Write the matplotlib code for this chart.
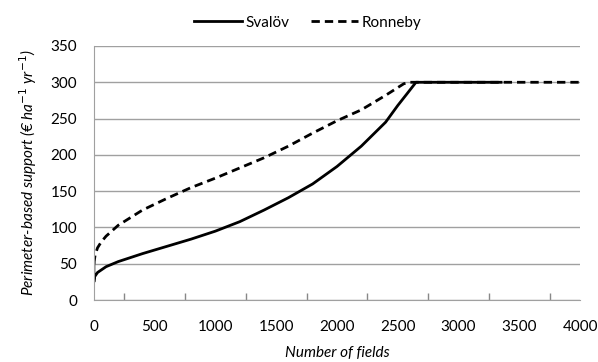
import numpy as np
import matplotlib.pyplot as plt

plt.rcParams['font.family'] = ['Lato', 'DejaVu Sans']

# Svalöv curve (fields sorted by support)
svalov_x = [0, 0, 5, 30, 100, 200, 400, 600, 800, 1000, 1200, 1400, 1600, 1800,
            2000, 2200, 2400, 2500, 2580, 2650, 3350]
svalov_y = [50, 25, 32, 38, 46, 53, 64, 74, 84, 95, 108, 124, 141, 160,
            184, 212, 245, 268, 285, 300, 300]

# Ronneby curve
ronneby_x = [0, 10, 30, 60, 100, 200, 400, 600, 800, 1000, 1200, 1400, 1600,
             1800, 2000, 2200, 2400, 2550, 2600, 4000]
ronneby_y = [50, 62, 72, 80, 88, 103, 124, 140, 155, 168, 182, 196, 212,
             230, 247, 262, 282, 298, 300, 300]

fig = plt.figure(figsize=(5.98, 3.62), dpi=100)
ax = fig.add_axes([0.157, 0.171, 0.813, 0.702])

ax.plot(ronneby_x, ronneby_y, color='black', lw=2, linestyle=(0, (3, 1.8)), label='Ronneby')
ax.plot(svalov_x, svalov_y, color='black', lw=2, label='Svalöv')

ax.set_xlim(0, 4000)
ax.set_ylim(0, 350)
ax.set_xticks(np.arange(0, 4001, 500))
ax.set_xticks(np.arange(250, 4000, 500), minor=True)
ax.set_yticks(np.arange(0, 351, 50))
ax.grid(axis='y', color='#a0a0a0', lw=1)
ax.set_axisbelow(True)

for s in ['top', 'right']:
    ax.spines[s].set_visible(False)
for s in ['left', 'bottom']:
    ax.spines[s].set_color('#a0a0a0')
ax.tick_params(axis='y', length=0, labelsize=11, pad=12)
ax.tick_params(axis='x', which='major', length=0, labelsize=11, pad=14)
ax.tick_params(axis='x', which='minor', length=5, width=1, direction='in', color='#888888')

ax.set_xlabel('Number of fields', fontstyle='italic', fontsize=11, labelpad=9)
ax.set_ylabel('Perimeter-based support (€ ha$^{-1}$ yr$^{-1}$)', fontstyle='italic',
              fontsize=11, labelpad=8)

h, l = ax.get_legend_handles_labels()
fig.legend(h[::-1], l[::-1], loc='upper center', bbox_to_anchor=(0.515, 0.995), ncol=2,
           frameon=False, fontsize=11, handlelength=3.1, columnspacing=1.4,
           handletextpad=0.25)

fig.savefig('out.png', dpi=100)
